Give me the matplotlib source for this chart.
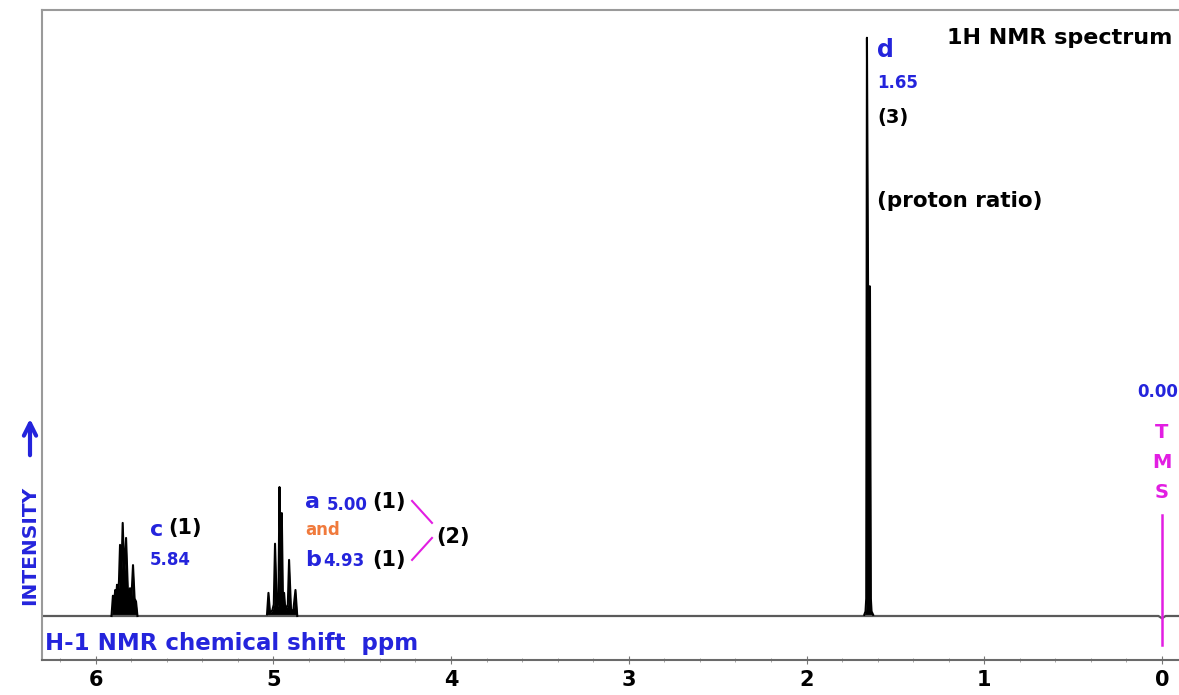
import matplotlib
matplotlib.use('Agg')
import matplotlib.pyplot as plt
from matplotlib.ticker import MultipleLocator

# --- Spectrum trace (ppm, relative intensity) ---
# c multiplet ~5.84
c_ppm = [5.910, 5.902, 5.895, 5.889, 5.884, 5.879, 5.873, 5.868, 5.862, 5.855,
         5.847, 5.838, 5.828, 5.818, 5.812, 5.806, 5.798, 5.789, 5.780, 5.772, 5.764]
c_int = [0, 3.5, 2.5, 4.5, 3.0, 5.4, 3.5, 6.0, 12.3, 6.5,
         16.1, 7.0, 13.5, 4.5, 3.5, 4.8, 3.0, 8.8, 3.0, 2.5, 0]
# a / b multiplets ~5.00 and 4.93
ab_ppm = [5.035, 5.027, 5.018, 5.005, 4.997, 4.990, 4.980, 4.971, 4.965, 4.959,
          4.952, 4.945, 4.939, 4.932, 4.925, 4.918, 4.911, 4.900, 4.887, 4.875, 4.865]
ab_int = [0.3, 4.0, 0.5, 1.0, 2.0, 12.5, 1.5, 2.0, 22.3, 8.0,
          17.8, 1.5, 4.0, 1.0, 1.5, 2.0, 9.7, 1.0, 1.0, 4.5, 0]
# d doublet ~1.65
d_ppm = [1.675, 1.668, 1.664, 1.660, 1.652, 1.647, 1.643, 1.638, 1.634, 1.625]
d_int = [0.2, 0.8, 3.0, 100, 45, 57, 57, 3.0, 0.8, 0.2]
# baseline with the small TMS dip at 0.00
base_ppm = [6.30, 0.02, 0.0, -0.02, -0.10]
base_int = [0, 0, -0.4, 0, 0]

XTICKS = [6, 5, 4, 3, 2, 1, 0]
BLUE = '#2424dc'
MAGENTA = '#e21ee2'
ORANGE = '#f07a3c'

plt.rcParams['font.family'] = ['DejaVu Sans']

fig = plt.figure(figsize=(11.79, 6.95), dpi=100)
ax = fig.add_axes([42 / 1179, 35 / 695, 1137 / 1179, 650 / 695])

ax.plot(base_ppm, base_int, color='#5a5a5a', lw=1.6)
for xs, ys in [(c_ppm, c_int), (ab_ppm, ab_int), (d_ppm, d_int)]:
    ax.fill_between(xs, 0, ys, color='black', lw=0)
    ax.plot(xs, ys, color='black', lw=1.5)

ax.set_xlim(6.301, -0.0956)
ax.set_ylim(-7.61, 104.8)

# TMS marker
ax.plot([0, 0], [17.5, -5.0], color=MAGENTA, lw=1.8)
for letter, yy in zip(['T', 'M', 'S'], [31.8, 26.6, 21.3]):
    ax.text(0, yy, letter, color=MAGENTA, fontsize=14, fontweight='bold', ha='center', va='center')
ax.text(-0.092, 38.8, '0.00', color=BLUE, fontsize=12, fontweight='bold', ha='right', va='center')

# peak d
ax.text(1.558, 97.9, 'd', color=BLUE, fontsize=17, fontweight='bold', ha='center', va='center')
ax.text(1.603, 92.2, '1.65', color=BLUE, fontsize=12, fontweight='bold', ha='left', va='center')
ax.text(1.603, 86.2, '(3)', color='black', fontsize=14, fontweight='bold', ha='left', va='center')
ax.text(1.603, 71.8, '(proton ratio)', color='black', fontsize=15.5, fontweight='bold',
        ha='left', va='center')
ax.text(-0.056, 100, '1H NMR spectrum', color='black', fontsize=16, fontweight='bold',
        ha='right', va='center')

# peak c
ax.text(5.693, 14.9, 'c', color=BLUE, fontsize=16, fontweight='bold', ha='left', va='center')
ax.text(5.592, 15.2, '(1)', color='black', fontsize=15, fontweight='bold', ha='left', va='center')
ax.text(5.693, 9.7, '5.84', color=BLUE, fontsize=12, fontweight='bold', ha='left', va='center')

# peaks a and b
ax.text(4.821, 19.7, 'a', color=BLUE, fontsize=16, fontweight='bold', ha='left', va='center')
ax.text(4.698, 19.2, '5.00', color=BLUE, fontsize=12, fontweight='bold', ha='left', va='center')
ax.text(4.444, 19.7, '(1)', color='black', fontsize=15, fontweight='bold', ha='left', va='center')
ax.text(4.821, 14.9, 'and', color=ORANGE, fontsize=12, fontweight='bold', ha='left', va='center')
ax.text(4.821, 9.7, 'b', color=BLUE, fontsize=16, fontweight='bold', ha='left', va='center')
ax.text(4.721, 9.5, '4.93', color=BLUE, fontsize=12, fontweight='bold', ha='left', va='center')
ax.text(4.444, 9.7, '(1)', color='black', fontsize=15, fontweight='bold', ha='left', va='center')
ax.text(4.085, 13.7, '(2)', color='black', fontsize=15, fontweight='bold', ha='left', va='center')
ax.plot([4.219, 4.107], [19.9, 16.1], color=MAGENTA, lw=1.5)
ax.plot([4.219, 4.107], [9.7, 13.5], color=MAGENTA, lw=1.5)

# axis title inside the frame
ax.text(6.284, -4.7, 'H-1 NMR chemical shift  ppm', color=BLUE, fontsize=16.5,
        fontweight='bold', ha='left', va='center')

# frame and ticks
for side in ['top', 'left']:
    ax.spines[side].set_color('#9a9a9a')
    ax.spines[side].set_linewidth(1.5)
ax.spines['bottom'].set_color('#6a6a6a')
ax.spines['bottom'].set_linewidth(1.5)
ax.spines['right'].set_visible(False)

ax.set_xticks(XTICKS)
ax.set_xticklabels([str(t) for t in XTICKS], fontsize=15, fontweight='bold')
ax.xaxis.set_minor_locator(MultipleLocator(0.2))
ax.tick_params(axis='x', which='major', direction='inout', length=6, color='#777', pad=4)
ax.tick_params(axis='x', which='minor', direction='inout', length=3, color='#999')
ax.set_yticks([])

# vertical intensity label with arrow
fig.text(30 / 1179, 90 / 695, 'INTENSITY', color=BLUE, fontsize=14.5, fontweight='bold',
         rotation=90, ha='center', va='bottom')
fig.add_artist(matplotlib.patches.FancyArrowPatch(
    (30 / 1179, 237 / 695), (30 / 1179, 279 / 695), transform=fig.transFigure,
    arrowstyle='->', mutation_scale=22, color=BLUE, lw=3))

fig.savefig('out.png', dpi=100)
